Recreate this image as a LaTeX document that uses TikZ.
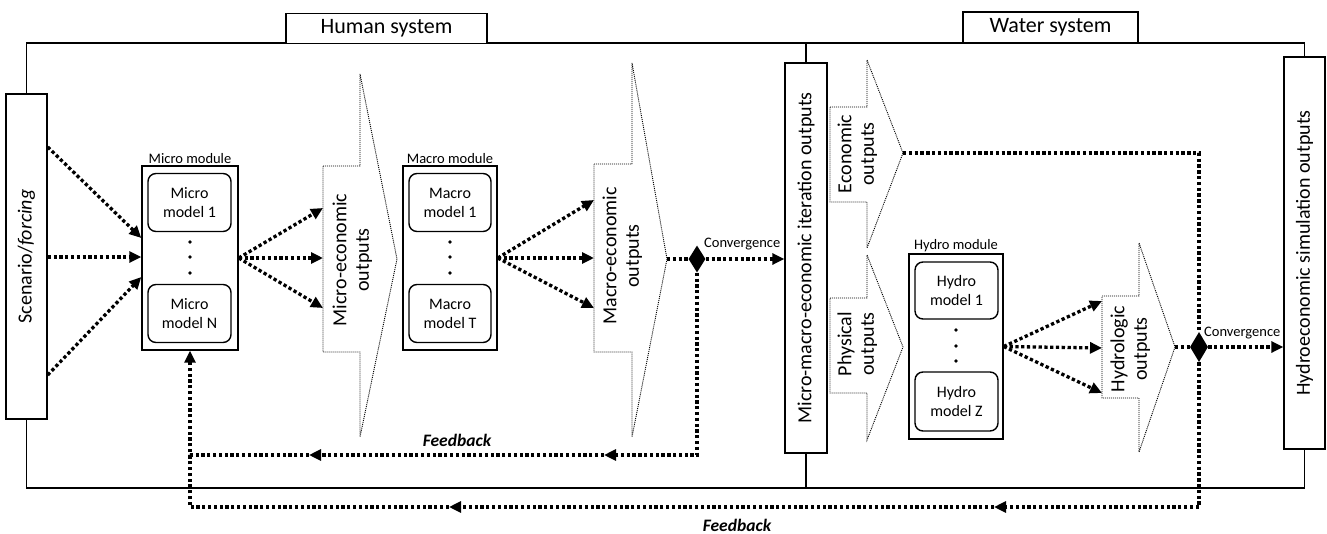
\documentclass[tikz,border=0pt]{standalone}
\usepackage{fontspec}
\setmainfont{Carlito}
\usepackage{graphicx}
\usetikzlibrary{arrows.meta,shapes.geometric}
\newcommand\fBig{\fontsize{20}{22.5}\selectfont}
\newcommand\fMid{\fontsize{16}{19}\selectfont}
\newcommand\fSm{\fontsize{14.5}{16}\selectfont}
\newcommand\vtxt[1]{\rotatebox{90}{\begin{tabular}{@{}c@{}}#1\end{tabular}}}
\begin{document}
\begin{tikzpicture}[x=1pt,y={(0,-1pt)},
 frame/.style={line width=1.4pt},
 box/.style={draw,line width=1.4pt,inner sep=0pt,fill=white},
 model/.style={draw,line width=1.4pt,rounded corners=8pt,inner sep=0pt,minimum width=83pt,minimum height=58pt,align=center,font=\fMid},
 outshape/.style={line width=0.9pt,dash pattern=on 1pt off 1pt},
 flow/.style={line width=3.3pt,dash pattern=on 3.3pt off 2.5pt,-{Triangle[length=12pt,width=11pt]}},
 link/.style={line width=3.3pt,dash pattern=on 3.3pt off 2.5pt},
 conv/.style={diamond,fill=black,inner sep=0pt,minimum width=17pt,minimum height=27pt},
 modlabel/.style={font=\fSm,inner sep=1pt},
]
\useasboundingbox (0,0) rectangle (1327,533);

% big boxes
\node[box,minimum width=41pt,minimum height=325pt] (scen) at (26.5,256.5) {\fBig\rotatebox{90}{Scenario/\textit{forcing}}};
\node[box,minimum width=42pt,minimum height=390pt] (iter) at (806,258) {\fBig\rotatebox{90}{Micro-macro-economic iteration outputs}};
\node[box,minimum width=41pt,minimum height=392pt] (hyd) at (1304.5,253) {\fBig\rotatebox{90}{Hydroeconomic simulation outputs}};

% frame
\draw[frame] (scen.north) -- (scen.north |- 0,43) -- (hyd.north |- 0,43) -- (hyd.north);
\draw[frame] (scen.south) -- (scen.south |- 0,488) -- (hyd.south |- 0,488) -- (hyd.south);
\draw[frame] (iter.north) -- (iter.north |- 0,43);
\draw[frame] (iter.south) -- (iter.south |- 0,488);

\node[box,minimum width=201pt,minimum height=30pt,font=\fontsize{22}{24}\selectfont] (hs) at (386.5,28.5) {Human system};
\node[box,minimum width=175pt,minimum height=31pt,font=\fontsize{22}{24}\selectfont] (ws) at (1050.5,27.5) {Water system};

% modules
\node[box,minimum width=96pt,minimum height=184pt,label={[modlabel]above:Micro module}] (micro) at (190,258) {};
\node[model] (mi1) at (189.5,202.5) {Micro\\model 1};
\node[model] (miN) at (189.5,313.5) {Micro\\model N};
\foreach \yy in {242,257,273} \fill (190,\yy) circle (1.9pt);

\node[box,minimum width=94pt,minimum height=184pt,label={[modlabel]above:Macro module}] (macro) at (450,258) {};
\node[model,minimum width=82pt] (ma1) at (450,202.5) {Macro\\model 1};
\node[model,minimum width=82pt] (maT) at (450,313.5) {Macro\\model T};
\foreach \yy in {242,257,273} \fill (450,\yy) circle (1.9pt);

\node[box,minimum width=94pt,minimum height=185pt,label={[modlabel]above:Hydro module}] (hydro) at (956,346.5) {};
\node[model,minimum height=57pt] (hy1) at (956.5,290.5) {Hydro\\model 1};
\node[model,minimum height=59pt] (hyZ) at (956.5,401.5) {Hydro\\model Z};
\foreach \yy in {330,346,361} \fill (956,\yy) circle (1.9pt);

% output shapes
\draw[outshape] (323,166) -- (360,166) -- (360,74) -- (397,259) -- (360,437) -- (360,352) -- (323,352) -- cycle;
\coordinate (miL) at (323,259);
\node (mitxt) at (353,260) {\fBig\vtxt{Micro-economic\\outputs}};

\draw[outshape] (594,164) -- (632,164) -- (632,63) -- (667,259) -- (632,437) -- (632,352) -- (594,352) -- cycle;
\coordinate (maL) at (594,259);
\coordinate (maTip) at (667,259);
\node (matxt) at (623,256) {\fBig\vtxt{Macro-economic\\outputs}};

\draw[outshape] (830,107) -- (867,107) -- (867,60) -- (903,153) -- (867,248) -- (867,202) -- (830,202) -- cycle;
\coordinate (ecTip) at (903,153);
\node (ectxt) at (858,154) {\fBig\vtxt{Economic\\outputs}};

\draw[outshape] (830,298) -- (867,298) -- (867,255) -- (903,347) -- (867,440) -- (867,393) -- (830,393) -- cycle;
\node (phtxt) at (858,344) {\fBig\vtxt{Physical\\outputs}};

\draw[outshape] (1102,296) -- (1139,296) -- (1139,243) -- (1175,347) -- (1139,452) -- (1139,398) -- (1102,398) -- cycle;
\coordinate (hlL) at (1102,348);
\coordinate (hlTip) at (1175,347);
\node (hltxt) at (1131,349) {\fBig\vtxt{Hydrologic\\outputs}};

% convergence diamonds
\node[conv] (c1) at (697,259) {};
\node[conv,minimum width=18pt,minimum height=30pt] (c2) at (1199,347) {};
\node[font=\fSm,anchor=base west,inner sep=0pt] (cl1) at (704,247) {Convergence};
\node[font=\fSm,anchor=base west,inner sep=0pt] (cl2) at (1204,336) {Convergence};

% flows
\draw[flow] (scen.east |- 0,147) -- (micro.west |- 0,238);
\draw[flow] (scen.east |- 0,257) -- (micro.west |- 0,257);
\draw[flow] (scen.east |- 0,375) -- (micro.west |- 0,277);

\draw[flow] (micro.east) -- (miL |- 0,208);
\draw[flow] (micro.east) -- (miL |- 0,258);
\draw[flow] (micro.east) -- (miL |- 0,308);

\draw[flow] (macro.east) -- (maL |- 0,200);
\draw[flow] (macro.east) -- (maL |- 0,258);
\draw[flow] (macro.east) -- (maL |- 0,308);

\draw[flow] (hydro.east) -- (hlL |- 0,301);
\draw[flow] (hydro.east) -- (hlL |- 0,348);
\draw[flow] (hydro.east) -- (hlL |- 0,393);

\draw[link] (maTip) -- (c1.west);
\draw[flow] (c1.east) -- (iter.west |- c1);
\draw[link] (hlTip) -- (c2.west);
\draw[flow] (c2.east) -- (hyd.west |- c2);
\draw[link] (ecTip) -| (c2.north);

% feedback loops
\coordinate (fa) at (604,455);
\coordinate (fb) at (309,455);
\draw[flow] (c1.south) |- (fa);
\draw[flow] (fa) -- (fb);
\draw[flow] (fb) -| (micro.south);

\coordinate (fc) at (994,507);
\coordinate (fd) at (449,507);
\coordinate (fcorner) at (190,507);
\draw[flow] (c2.south) |- (fc);
\draw[flow] (fc) -- (fd);
\draw[link] (fd) -- (fcorner) -- (micro.south |- fa);

\node[font=\fontsize{17.5}{20}\selectfont\bfseries\itshape,anchor=base] (fbl1) at (457,446) {Feedback};
\node[font=\fontsize{17.5}{20}\selectfont\bfseries\itshape,anchor=base] (fbl2) at (737,531) {Feedback};
\end{tikzpicture}
\end{document}
